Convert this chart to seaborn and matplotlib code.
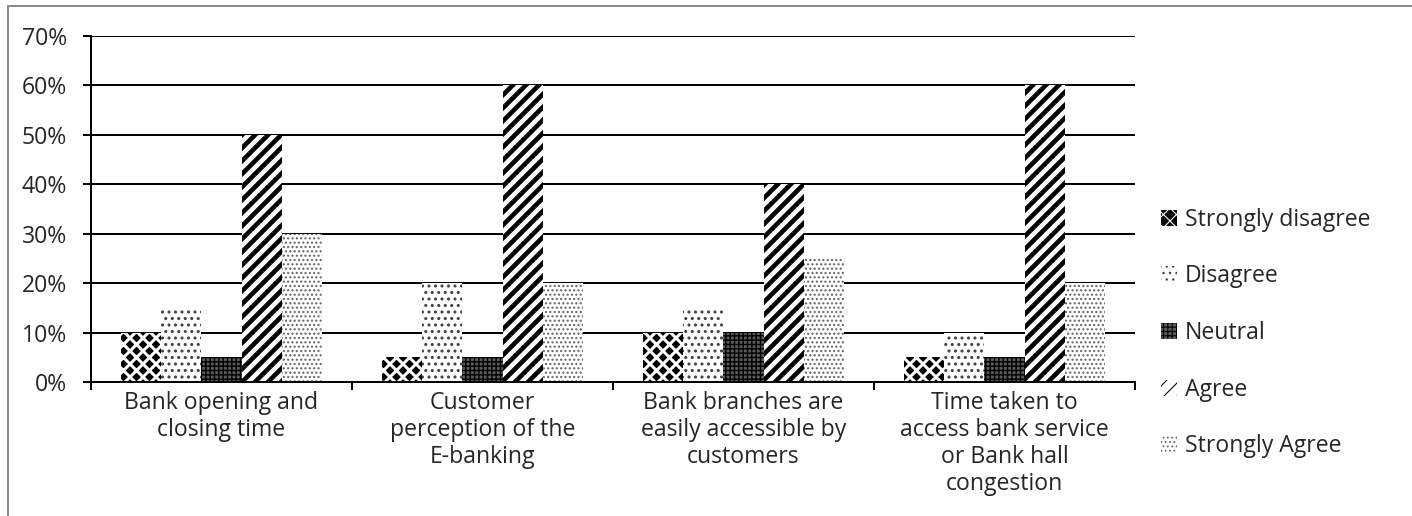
import numpy as np
import pandas as pd
import matplotlib
matplotlib.use("Agg")
import matplotlib.pyplot as plt
import seaborn as sns
from matplotlib.patches import Rectangle
from matplotlib.ticker import PercentFormatter, FixedLocator

# --------------------------------------------------------------
# Data (percent of respondents)
# --------------------------------------------------------------
categories = [
    "Bank opening and\nclosing time",
    "Customer\nperception of the\nE-banking",
    "Bank branches are\neasily accessible by\ncustomers",
    "Time taken to\naccess bank service\nor Bank hall\ncongestion",
]
responses = ["Strongly disagree", "Disagree", "Neutral", "Agree", "Strongly Agree"]

strongly_disagree = [10, 5, 10, 5]
disagree = [15, 20, 15, 10]
neutral = [5, 5, 10, 5]
agree = [50, 60, 40, 60]
strongly_agree = [30, 20, 25, 20]

values = [strongly_disagree, disagree, neutral, agree, strongly_agree]
rows = []
for resp, vals in zip(responses, values):
    for cat, v in zip(categories, vals):
        rows.append({"category": cat, "response": resp, "pct": v})
df = pd.DataFrame(rows)

# --------------------------------------------------------------
# Sizing: hatch cell = dpi pixels, so pick dpi to get pattern scale
# --------------------------------------------------------------
DPI = 78
W, H = 1412, 516


def pt(px):
    return px * 72.0 / DPI


# hatch styling per response
hatches = ["xx", "..", "+++", "//", "..."]
faces = ["black", "white", "#5a5a5a", "white", "white"]
hatch_col = ["white", "#444444", "black", "black", "#666666"]
hatch_lw = [pt(3.0), pt(1.8), pt(1.4), pt(4.6), pt(1.4)]

# --------------------------------------------------------------
# Plot
# --------------------------------------------------------------
sns.set_theme(style="white")
plt.rcParams["font.family"] = ["Open Sans", "DejaVu Sans"]
FS = pt(23)

fig = plt.figure(figsize=(W / DPI, H / DPI), dpi=DPI)
ax = fig.add_axes([91 / W, 1 - 382 / H, (1135 - 91) / W, (382 - 36) / H])

sns.barplot(data=df, x="category", y="pct", hue="response",
            order=categories, hue_order=responses,
            width=0.77, gap=0, ax=ax, errorbar=None, legend=False)

for i, cont in enumerate(ax.containers):
    for bar in cont:
        bar.set_facecolor(faces[i])
        bar.set_edgecolor(hatch_col[i])
        bar.set_linewidth(0)
        bar.set_hatch(hatches[i])
        try:
            bar.set_hatch_linewidth(hatch_lw[i])
        except AttributeError:
            pass

ax.set_ylim(0, 70)
ax.set_xlim(-0.5, len(categories) - 0.5)
ax.yaxis.set_major_locator(FixedLocator(np.arange(0, 71, 10)))
ax.yaxis.set_major_formatter(PercentFormatter(decimals=0))
ax.grid(axis="y", color="black", linewidth=pt(2))
ax.set_axisbelow(True)
ax.set_xlabel("")
ax.set_ylabel("")

for s in ["top", "right"]:
    ax.spines[s].set_visible(False)
for s in ["left", "bottom"]:
    ax.spines[s].set_color("black")
    ax.spines[s].set_linewidth(pt(2))

# ticks: category boundaries on x, left ticks on y
ax.set_xticks(np.arange(len(categories)))
ax.set_xticklabels(categories, fontsize=FS, linespacing=1.17, va="top")
ax.tick_params(axis="x", length=0, pad=pt(9))
ax.set_xticks(np.arange(-0.5, len(categories), 1), minor=True)
ax.tick_params(axis="x", which="minor", length=pt(8), width=pt(2), color="black", bottom=True)
ax.tick_params(axis="y", length=pt(8), width=pt(2), color="black", left=True,
               labelsize=FS, pad=pt(16))

# legend uses the styled bars as handles
handles = [cont[0] for cont in ax.containers]
ax.legend(handles, responses, loc="center left",
          bbox_to_anchor=((1161 - 91) / 1044, (382 - 333) / 346),
          frameon=False, fontsize=FS, labelspacing=1.42, handlelength=0.7,
          handleheight=0.7, handletextpad=0.35, borderpad=0, borderaxespad=0)

fig.patches.append(Rectangle((8 / W, -0.1), 1.2, 1 - 6 / H + 0.1,
                             transform=fig.transFigure, fill=False,
                             edgecolor="#8c8c8c", linewidth=pt(2)))

fig.savefig("out.png", dpi=DPI, facecolor="white")
